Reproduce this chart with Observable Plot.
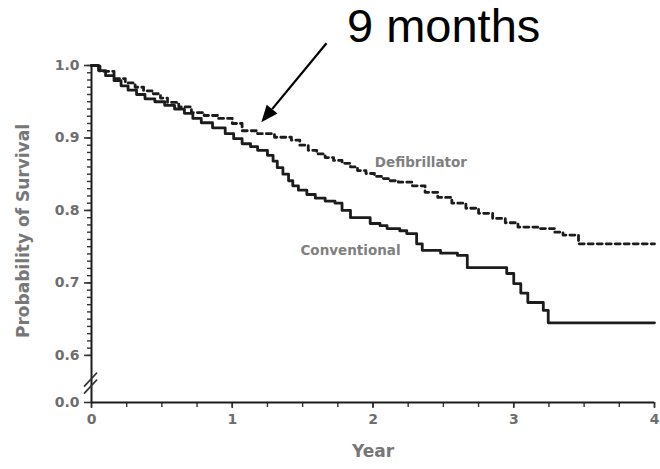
<!DOCTYPE html>
<html><head><meta charset="utf-8">
<script src="https://cdn.jsdelivr.net/npm/d3@7"></script>
<script src="https://cdn.jsdelivr.net/npm/@observablehq/plot@0.6"></script>
<style>body{margin:0;background:#fff}</style>
</head><body><div id="chart"></div>
<script>
// ---- data ----
const convYears = [0, 0.05, 0.10, 0.16, 0.21, 0.26, 0.32, 0.38, 0.45, 0.52, 0.59, 0.66, 0.72, 0.78, 0.86, 0.95, 1.01, 1.07, 1.13, 1.18, 1.25, 1.29, 1.32, 1.36, 1.40, 1.43, 1.47, 1.53, 1.59, 1.66, 1.73, 1.78, 1.84, 1.98, 2.05, 2.10, 2.19, 2.24, 2.31, 2.35, 2.48, 2.60, 2.67, 2.95, 3.00, 3.05, 3.10, 3.21, 3.245, 4.0];
const convSurvival = [1.0, 0.993, 0.986, 0.979, 0.972, 0.966, 0.960, 0.954, 0.950, 0.945, 0.940, 0.934, 0.927, 0.921, 0.914, 0.906, 0.899, 0.892, 0.888, 0.883, 0.876, 0.868, 0.859, 0.850, 0.841, 0.834, 0.828, 0.822, 0.817, 0.813, 0.810, 0.800, 0.790, 0.782, 0.779, 0.775, 0.772, 0.768, 0.754, 0.745, 0.741, 0.738, 0.721, 0.713, 0.699, 0.686, 0.673, 0.662, 0.645, 0.645];
const defibYears = [0, 0.06, 0.16, 0.24, 0.31, 0.37, 0.43, 0.49, 0.54, 0.62, 0.71, 0.80, 0.90, 1.00, 1.07, 1.18, 1.30, 1.42, 1.48, 1.54, 1.60, 1.66, 1.72, 1.78, 1.84, 1.89, 1.95, 2.01, 2.06, 2.12, 2.18, 2.28, 2.37, 2.46, 2.56, 2.66, 2.75, 2.85, 2.94, 3.03, 3.17, 3.29, 3.35, 3.46, 4.0];
const defibSurvival = [1.0, 0.992, 0.982, 0.976, 0.970, 0.965, 0.961, 0.955, 0.949, 0.943, 0.935, 0.931, 0.927, 0.920, 0.910, 0.906, 0.901, 0.897, 0.890, 0.883, 0.878, 0.873, 0.869, 0.865, 0.860, 0.855, 0.851, 0.847, 0.844, 0.841, 0.839, 0.834, 0.825, 0.818, 0.810, 0.803, 0.796, 0.789, 0.783, 0.777, 0.775, 0.770, 0.766, 0.754, 0.754];

const seriesNames = ["Defibrillator", "Conventional"];
const seriesLabelX = [2.34, 1.84];
const seriesLabelY = [0.866, 0.745];

const xTickValues = [0, 1, 2, 3, 4];
const xTickLabels = ["0", "1", "2", "3", "4"];
const xMinorStep = 0.25;
const yTickValues = [0.0, 0.6, 0.7, 0.8, 0.9, 1.0];
const yTickLabels = ["0.0", "0.6", "0.7", "0.8", "0.9", "1.0"];
const yMinorStep = 0.01;

const annotationText = ["9 months"];
const annotationX = [1.815];
const annotationY = [1.053];
const arrowStart = [1.673, 1.030];
const arrowEnd = [1.21, 0.921];

const xLabel = "Year";
const yLabel = "Probability of Survival";

// ---- axis break: values below 0.6 are drawn at BREAK_FLOOR ----
const BREAK_FLOOR = 0.535;
const toAxis = v => (v < 0.6 ? BREAK_FLOOR : v);

const conv = convYears.map((x, i) => ({x, y: convSurvival[i]}));
const defib = defibYears.map((x, i) => ({x, y: defibSurvival[i]}));
const seriesLabels = seriesNames.map((t, i) => ({t, x: seriesLabelX[i], y: seriesLabelY[i]}));

const yMajorPos = yTickValues.map(toAxis);
const yLabelByPos = new Map(yMajorPos.map((p, i) => [p, yTickLabels[i]]));
const yMinor = d3.range(0.6, 1.0 + 1e-9, yMinorStep);
const xMinor = d3.range(0, 4 + 1e-9, xMinorStep);

const ink = "#1c1c1c";
const textGray = "#6e6e6e";
const sans = "'DejaVu Sans', 'Liberation Sans', sans-serif";

function breakMarks(index, scales) {
  const x0 = scales.x(0), yc = scales.y(BREAK_FLOOR + 0.026);
  const g = d3.create("svg:g").attr("stroke", "#333").attr("stroke-width", 1.6);
  for (const off of [-3.5, 3.5]) {
    g.append("line").attr("x1", x0 - 7).attr("y1", yc + 7 + off).attr("x2", x0 + 6).attr("y2", yc - 7 + off);
  }
  return g.node();
}

function arrowMark(index, scales) {
  const x1 = scales.x(arrowStart[0]), y1 = scales.y(arrowStart[1]);
  const x2 = scales.x(arrowEnd[0]), y2 = scales.y(arrowEnd[1]);
  const a = Math.atan2(y2 - y1, x2 - x1);
  const L = 17, W = 7;
  const bx = x2 - L * Math.cos(a), by = y2 - L * Math.sin(a);
  const px = -Math.sin(a) * W, py = Math.cos(a) * W;
  const g = d3.create("svg:g");
  g.append("line").attr("x1", x1).attr("y1", y1).attr("x2", bx).attr("y2", by)
    .attr("stroke", "#000").attr("stroke-width", 2.2);
  g.append("polygon").attr("points", `${x2},${y2} ${bx + px},${by + py} ${bx - px},${by - py}`).attr("fill", "#000");
  return g.node();
}

const chart = Plot.plot({
  width: 660,
  height: 469,
  marginLeft: 91,
  marginRight: 6,
  marginTop: 65,
  marginBottom: 67,
  style: {fontFamily: sans, background: "#fff"},
  x: {domain: [0, 4]},
  y: {domain: [BREAK_FLOOR, 1.0]},
  marks: [
    // axes
    Plot.axisY(yMinor, {tickSize: 4, tickFormat: () => "", stroke: "#333", strokeWidth: 1.4, label: null}),
    Plot.axisY(yMajorPos, {tickSize: 7, tickPadding: 5, tickFormat: d => yLabelByPos.get(d), stroke: "#333", strokeWidth: 1.6,
      color: textGray, fontSize: 14, fontWeight: "bold", label: null}),
    Plot.axisX(xMinor, {tickSize: 5, tickFormat: () => "", stroke: "#333", strokeWidth: 1.4, label: null}),
    Plot.axisX(xTickValues, {tickSize: 6, tickPadding: 6, tickFormat: d => xTickLabels[xTickValues.indexOf(d)], stroke: "#333", strokeWidth: 1.6,
      color: textGray, fontSize: 14, fontWeight: "bold", label: null}),
    Plot.ruleX([0], {y1: BREAK_FLOOR, y2: 1.0, stroke: ink, strokeWidth: 2}),
    Plot.ruleY([BREAK_FLOOR], {x1: 0, x2: 4, stroke: ink, strokeWidth: 2}),
    breakMarks,
    Plot.text([xLabel], {frameAnchor: "bottom", dy: 54, fontSize: 17, fontWeight: "bold", fill: "#777"}),
    Plot.text([yLabel], {frameAnchor: "left", textAnchor: "middle", dx: -68, dy: -3, rotate: -90, fontSize: 17, fontWeight: "bold", fill: "#777"}),
    // survival curves
    Plot.line(defib, {x: "x", y: "y", curve: "step-after", stroke: ink, strokeWidth: 2.8, strokeDasharray: "5,4"}),
    Plot.line(conv, {x: "x", y: "y", curve: "step-after", stroke: ink, strokeWidth: 2.8}),
    Plot.text(seriesLabels, {x: "x", y: "y", text: "t", fontSize: 13.5, fontWeight: "bold", fill: "#808080"}),
    // annotation
    Plot.text(annotationText, {x: annotationX, y: annotationY, text: d => d, textAnchor: "start", fontSize: 47, fill: "#000",
      fontFamily: "'Liberation Sans', Arial, sans-serif"}),
    arrowMark
  ]
});
document.getElementById("chart").append(chart);
</script>
</body></html>
